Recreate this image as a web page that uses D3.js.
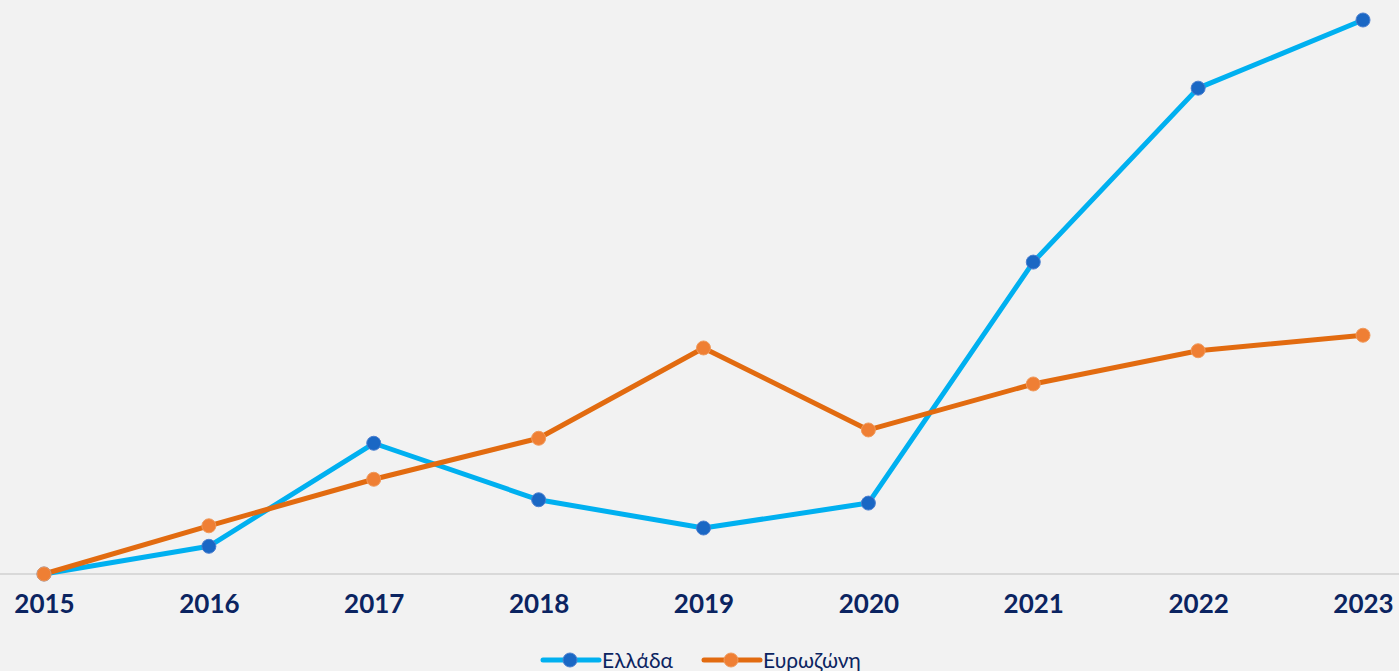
<!DOCTYPE html>
<html>
<head>
<meta charset="utf-8">
<script src="https://cdn.jsdelivr.net/npm/d3@7"></script>
<style>
  html, body { margin: 0; padding: 0; background: #f2f2f2; }
  svg { display: block; }
</style>
</head>
<body>
<div id="chart"></div>
<script>
var width = 1399
var height = 671

// data (relative scale, no y axis shown)
var years = [2015, 2016, 2017, 2018, 2019, 2020, 2021, 2022, 2023]
var greece = [0, 5.0, 23.6, 13.4, 8.3, 12.8, 56.3, 87.7, 100]
var eurozone = [0, 8.7, 17.1, 24.5, 40.8, 26.0, 34.3, 40.3, 43.1]
var seriesNames = ["Ελλάδα", "Ευρωζώνη"]

var lineColors = ["#00b0f0", "#e26b10"]
var dotColors = ["#1a67c4", "#ef7f34"]

var svg = d3.select("#chart").append("svg")
  .attr("width", width).attr("height", height)

svg.append("rect").attr("width", width).attr("height", height).attr("fill", "#f2f2f2")

var x = d3.scalePoint().domain(years).range([44, 1363])
var y = d3.scaleLinear().domain([0, 100]).range([574, 20])

// baseline
svg.append("line")
  .attr("x1", 0).attr("x2", width)
  .attr("y1", y(0)).attr("y2", y(0))
  .attr("stroke", "#d9d9d9").attr("stroke-width", 2)

// x axis labels
var xAxis = svg.append("g")
  .attr("transform", "translate(0," + y(0) + ")")
  .call(d3.axisBottom(x).tickSize(0).tickPadding(21))
xAxis.select(".domain").remove()
xAxis.selectAll("text")
  .attr("font-family", "Lato, 'Open Sans', sans-serif")
  .attr("font-weight", "bold")
  .attr("font-size", "26px")
  .attr("fill", "#0b2461")

var allSeries = [greece, eurozone]
var line = d3.line()
  .x(function(d, i) { return x(years[i]) })
  .y(function(d) { return y(d) })

allSeries.forEach(function(vals, s) {
  svg.append("path")
    .datum(vals)
    .attr("fill", "none")
    .attr("stroke", lineColors[s])
    .attr("stroke-width", 5)
    .attr("stroke-linejoin", "round")
    .attr("d", line)
})

allSeries.forEach(function(vals, s) {
  svg.selectAll(".dot" + s)
    .data(vals)
    .enter()
    .append("circle")
    .attr("class", "dot" + s)
    .attr("cx", function(d, i) { return x(years[i]) })
    .attr("cy", function(d) { return y(d) })
    .attr("r", 7)
    .attr("fill", dotColors[s])
    .attr("stroke", s == 0 ? "#4a7fd0" : "#f09a5c")
    .attr("stroke-width", 1)
})

// legend
var legendX = [543, 704]
var legendY = 660
seriesNames.forEach(function(name, s) {
  var g = svg.append("g").attr("transform", "translate(" + legendX[s] + "," + legendY + ")")
  g.append("line")
    .attr("x1", 0).attr("x2", 56)
    .attr("y1", 0).attr("y2", 0)
    .attr("stroke", lineColors[s]).attr("stroke-width", 5)
    .attr("stroke-linecap", "round")
  g.append("circle")
    .attr("cx", 27).attr("cy", 0).attr("r", 7)
    .attr("fill", dotColors[s])
    .attr("stroke", s == 0 ? "#4a7fd0" : "#f09a5c")
  g.append("text")
    .attr("x", 59).attr("y", 8)
    .attr("font-family", "Lato, 'Open Sans', sans-serif")
    .attr("font-size", "21px")
    .attr("fill", "#0b2461")
    .text(name)
})
</script>
</body>
</html>
